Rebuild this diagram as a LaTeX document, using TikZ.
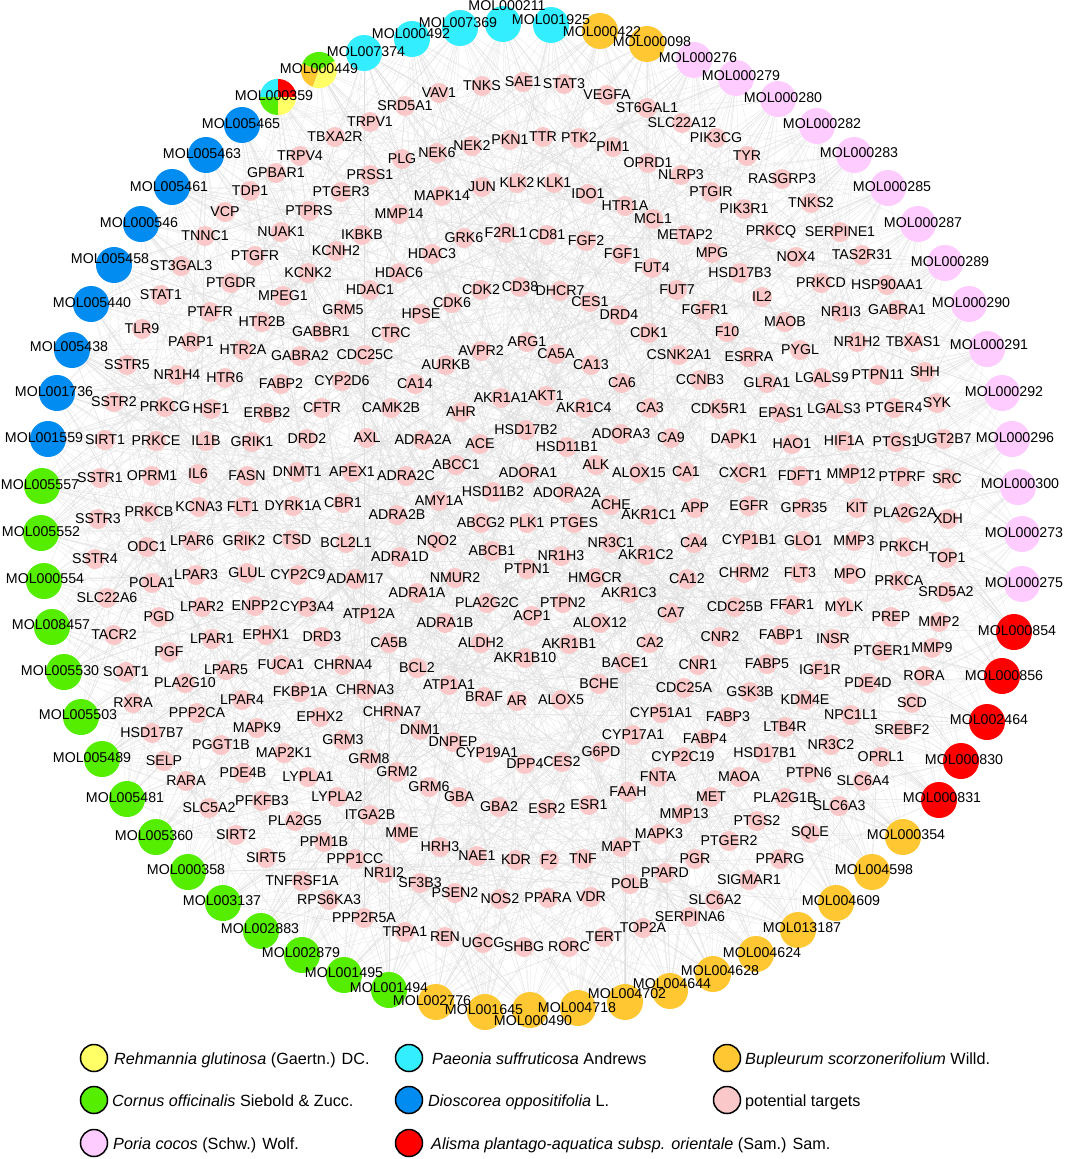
\documentclass[tikz,border=0pt]{standalone}
\usepackage{fontspec}
\setmainfont{Liberation Sans}
\pgfdeclarelayer{background}
\pgfsetlayers{background,main}
\definecolor{cyanm}{RGB}{51,238,255}
\definecolor{orm}{RGB}{255,200,50}
\definecolor{pom}{RGB}{255,204,255}
\definecolor{redm}{RGB}{255,0,0}
\definecolor{grm}{RGB}{85,238,0}
\definecolor{blm}{RGB}{0,140,240}
\definecolor{yem}{RGB}{255,255,102}
\definecolor{tgm}{RGB}{250,200,200}
\definecolor{edgec}{RGB}{222,222,222}
\def\mollist{MOL007374/364/53/366/52/cyanm,MOL000492/412/39/411/34/cyanm,MOL007369/460/28/458/23/cyanm,MOL000211/503/24/507/6/cyanm,MOL001925/551/25/551/20/cyanm,
MOL000422/600/31/602/32/orm,MOL000098/647/44/652/42/orm,
MOL000276/694/60/698/58/pom,MOL000279/736/78/741/76/pom,MOL000280/778/99/783/98/pom,MOL000282/817/126/822/124/pom,MOL000283/854/155/859/153/pom,MOL000285/888/188/892/187/pom,MOL000287/918/224/923/223/pom,MOL000289/945/263/950/262/pom,MOL000290/969/304/971/303/pom,MOL000291/987/349/989/345/pom,MOL000292/1002/393/1004/392/pom,MOL000296/1012/439/1015/438/pom,MOL000300/1018/487/1020/484/pom,MOL000273/1022/534/1024/533/pom,MOL000275/1022/584/1024/583/pom,
MOL000854/1014/632/1017/631/redm,MOL000856/1002/676/1004/676/redm,MOL002464/987/722/989/720/redm,MOL000830/961/761/964/760/redm,MOL000831/939/800/942/798/redm,
MOL000354/903/837/906/835/orm,MOL004598/872/872/874/870/orm,MOL004609/836/903/841/901/orm,MOL013187/798/930/802/928/orm,MOL004624/756/954/762/953/orm,MOL004628/713/974/720/971/orm,MOL004644/670/991/672/984/orm,MOL004702/625/1002/627/994/orm,MOL004718/578/1008/577/1008/orm,MOL000490/530/1010/533/1021/orm,MOL001645/485/1012/484/1010/orm,MOL002776/436/1002/432/1001/orm,
MOL001494/389/990/389/988/grm,MOL001495/344/975/344/973/grm,MOL002879/302/955/301/953/grm,MOL002883/261/931/260/929/grm,MOL003137/223/903/222/901/grm,MOL000358/188/872/186/870/grm,MOL005360/156/837/154/836/grm,MOL005481/127/799/125/798/grm,MOL005489/102/759/92/758/grm,MOL005503/81/717/78/715/grm,MOL005530/64/672/60/671/grm,MOL008457/52/627/51/625/grm,MOL000554/44/581/45/579/grm,MOL005552/41/533/41/532/grm,MOL005557/42/486/40/485/grm,
MOL001559/48/439/44/438/blm,MOL001736/57/393/54/392/blm,MOL005438/72/350/69/347/blm,MOL005440/91/304/92/303/blm,MOL005458/114/265/110/259/blm,MOL000546/141/224/139/223/blm,MOL005461/172/187/169/187/blm,MOL005463/206/155/202/154/blm,MOL005465/242/125/241/124/blm}
\begin{document}
\begin{tikzpicture}[x=1pt,y=-1pt,
 tgt/.style={circle,fill=tgm,draw=none,minimum size=20pt,inner sep=0pt},
 mol/.style={circle,draw=none,minimum size=36pt,inner sep=0pt},
 lbl/.style={font=\fontsize{14.2}{15}\selectfont,inner sep=0pt,text=black},
 legc/.style={circle,draw=black,line width=1.5pt,minimum size=27pt,inner sep=0pt},
 legt/.style={font=\fontsize{16.2}{18}\selectfont,anchor=base west,inner sep=0pt},
 lnk/.style={draw=edgec,line width=0.2pt}]
\useasboundingbox (0,0) rectangle (1065,1159);
% targets
\foreach \n/\x/\y [count=\i] in {
TBXA2R/335/137,TRPV4/300/156,GPBAR1/276/173,TDP1/250/191,PTGER3/341/192,VCP/225/212,PTPRS/309/211,TNNC1/205/236,NUAK1/281/232,IKBKB/362/235,KCNH2/336/251,ST3GAL3/181/266,PTGFR/255/256,KCNK2/308/273,STAT1/161/295,PTGDR/231/283,MPEG1/283/296,HDAC1/370/290,GRM5/343/310,PTAFR/210/312,HTR2B/262/322,TLR9/142/329,GABBR1/321/332,PARP1/191/342,HTR2A/243/350,
TNKS/482/86,SAE1/523/82,STAT3/564/84,VAV1/439/93,VEGFA/607/95,SRD5A1/405/106,ST6GAL1/647/108,TRPV1/370/122,SLC22A12/682/123,PIK3CG/716/138,NEK6/437/153,NEK2/472/146,PKN1/510/140,TTR/543/137,PTK2/579/138,PIM1/613/147,PLG/402/159,OPRD1/648/163,NLRP3/681/175,PRSS1/370/175,PTGIR/711/192,MAPK14/442/196,JUN/482/187,KLK2/517/183,KLK1/554/183,IDO1/588/194,HTR1A/625/206,MCL1/653/219,MMP14/399/214,METAP2/685/235,MPG/712/253,GRK6/464/238,F2RL1/506/233,CD81/547/235,FGF2/586/241,FGF1/622/254,HDAC3/432/254,FUT4/652/268,HDAC6/399/273,FUT7/677/290,CDK2/481/290,CD38/520/287,DHCR7/560/291,CES1/590/302,CDK6/452/303,HPSE/421/314,DRD4/619/315,FGFR1/705/310,CTRC/391/333,CDK1/649/333,AVPR2/481/351,ARG1/527/342,
TYR/747/156,RASGRP3/782/179,TNKS2/811/203,PIK3R1/744/209,PRKCQ/771/232,SERPINE1/840/232,NOX4/796/257,TAS2R31/862/255,HSD17B3/740/273,PRKCD/821/283,HSP90AA1/887/285,IL2/762/297,NR1I3/841/312,GABRA1/897/310,MAOB/785/322,F10/727/332,NR1H2/857/342,TBXAS1/913/342,PYGL/800/350,CSNK2A1/679/355,ESRRA/749/357,
SSTR5/127/365,NR1H4/177/375,HTR6/225/378,GABRA2/300/356,FABP2/281/384,CYP2D6/342/381,CDC25C/365/355,SSTR2/114/402,PRKCG/165/407,HSF1/211/409,ERBB2/267/413,CFTR/322/408,SIRT1/105/440,PRKCE/156/441,IL1B/206/441,GRIK1/252/442,DRD2/307/439,AXL/367/438,SSTR1/100/478,OPRM1/152/476,IL6/198/474,FASN/247/476,DNMT1/297/472,APEX1/352/472,SSTR3/98/519,PRKCB/149/512,KCNA3/199/507,FLT1/243/507,DYRK1A/293/506,CBR1/343/503,SSTR4/95/559,ODC1/147/547,LPAR6/192/541,GRIK2/244/541,CTSD/292/540,BCL2L1/346/543,POLA1/152/583,LPAR3/196/575,GLUL/247/573,CYP2C9/298/575,ADAM17/355/579,SLC22A6/107/598,LPAR2/202/607,ENPP2/255/606,CYP3A4/307/607,ATP12A/369/614,PGD/159/617,TACR2/114/635,LPAR1/212/639,EPHX1/266/635,DRD3/322/637,PGF/169/652,SOAT1/126/672,LPAR5/226/670,FUCA1/281/665,CHRNA4/343/665,PLA2G10/185/683,
CA5A/556/354,AURKB/446/365,CA13/591/365,CCNB3/700/380,CA14/415/384,CA6/622/383,AKR1A1/501/398,AKT1/546/396,CAMK2B/391/408,AHR/461/412,AKR1C4/584/408,CA3/650/408,CDK5R1/719/409,HSD17B2/526/430,ADRA2A/423/440,ACE/480/444,ADORA3/621/434,CA9/671/438,HSD11B1/567/447,DAPK1/734/439,ABCC1/456/465,ADRA2C/406/476,ADORA1/528/473,ALK/596/465,ALOX15/639/473,CA1/686/472,HSD11B2/493/492,ADORA2A/567/493,AMY1A/439/501,ACHE/611/505,AKR1C1/649/515,APP/695/508,CXCR1/743/473,ADRA2B/397/515,ABCG2/481/523,PLK1/527/523,PTGES/574/523,EGFR/749/506,NQO2/437/542,ABCB1/492/551,NR3C1/611/543,AKR1C2/646/555,CA4/694/543,ADRA1D/400/557,NR1H3/561/556,CYP1B1/749/540,PTPN1/527/569,NMUR2/455/578,HMGCR/595/578,CA12/687/579,ADRA1A/417/593,AKR1C3/629/593,CHRM2/744/573,PLA2G2C/487/603,PTPN2/563/603,ACP1/532/616,CA7/671/613,ADRA1B/445/623,ALOX12/600/623,CDC25B/735/607,CA5B/389/643,ALDH2/481/643,AKR1B1/569/644,CA2/650/643,CNR2/720/637,AKR1B10/525/658,BACE1/625/663,CNR1/698/665,BCL2/417/668,FABP1/781/635,FABP5/767/664,ATP1A1/449/685,BCHE/599/684,CDC25A/684/688,
GLRA1/767/383,LGALS9/822/378,PTPN11/878/375,SHH/925/372,EPAS1/781/413,LGALS3/834/409,PTGER4/894/408,SYK/937/403,HAO1/792/444,HIF1A/844/441,PTGS1/896/442,UGT2B7/944/439,FDFT1/800/476,MMP12/851/474,PTPRF/902/477,SRC/947/479,GPR35/804/508,KIT/857/508,PLA2G2A/905/513,XDH/948/519,GLO1/803/541,MMP3/854/541,PRKCH/904/547,TOP1/947/558,FLT3/800/573,MPO/850/574,PRKCA/899/581,SRD5A2/946/592,FFAR1/792/605,MYLK/844/607,PREP/891/617,MMP2/939/622,INSR/833/639,PTGER1/882/651,MMP9/932/648,IGF1R/820/670,PDE4D/868/683,RORA/924/676,GSK3B/750/692,
RXRA/133/703,PPP2CA/197/713,LPAR4/242/700,FKBP1A/300/692,CHRNA3/365/690,EPHX2/320/717,HSD17B7/152/733,MAPK9/257/728,PGGT1B/221/745,GRM3/343/740,SELP/164/761,MAP2K1/284/753,GRM8/369/759,RARA/186/781,PDE4B/243/773,LYPLA1/308/777,SLC5A2/209/808,PFKFB3/262/801,LYPLA2/337/797,ITGA2B/370/815,PLA2G5/295/821,SIRT2/236/835,PPM1B/324/842,SIRT5/266/858,PPP1CC/355/859,TNFRSF1A/302/881,RPS6KA3/329/900,PPP2R5A/364/918,
CHRNA7/392/712,BRAF/484/697,AR/517/701,ALOX5/561/700,DNM1/420/730,DNPEP/453/742,CYP19A1/487/753,DPP4/525/764,CES2/562/762,G6PD/601/752,CYP51A1/661/713,CYP17A1/633/735,GRM2/397/772,GRM6/429/787,GBA/459/797,GBA2/499/807,ESR2/547/809,ESR1/589/805,FAAH/628/792,FNTA/658/777,MME/402/833,HRH3/440/847,NAE1/477/856,KDR/516/860,F2/549/860,TNF/583/859,MAPT/621/847,MAPK3/659/834,NR1I2/384/873,SF3B3/420/883,PSEN2/455/893,NOS2/500/899,PPARA/548/898,VDR/591/897,POLB/630/884,PPARD/665/873,TRPA1/405/932,REN/445/937,UGCG/483/943,SHBG/524/947,RORC/569/947,TERT/604/937,TOP2A/643/928,
KDM4E/805/700,SCD/912/703,FABP3/728/717,NPC1L1/851/715,LTB4R/785/727,SREBF2/902/730,FABP4/705/739,NR3C2/831/745,HSD17B1/765/753,CYP2C19/683/757,OPRL1/881/757,MAOA/739/777,PTPN6/809/773,SLC6A4/863/781,MET/711/797,PLA2G1B/785/798,SLC6A3/839/806,MMP13/684/814,PTGS2/757/821,SQLE/810/833,PTGER2/729/841,PGR/695/859,PPARG/780/859,SIGMAR1/749/880,SLC6A2/715/900,SERPINA6/690/917}
{\node[tgt,label={[lbl]center:\n}] (t\i) at (\x,\y) {}; \xdef\ntgt{\i}}
% compound circles
\foreach \n/\x/\y/\lx/\ly/\c [count=\i] in \mollist {\node[mol,fill=\c] (m\i) at (\x,\y) {};}
\node[mol] (m64) at (278,97) {};
\fill[cyanm] (m64.center) -- (m64.90) arc[start angle=90,end angle=180,radius=18pt] -- cycle;
\fill[redm] (m64.center) -- (m64.0) arc[start angle=0,end angle=90,radius=18pt] -- cycle;
\fill[grm] (m64.center) -- (m64.180) arc[start angle=180,end angle=270,radius=18pt] -- cycle;
\fill[yem] (m64.center) -- (m64.270) arc[start angle=270,end angle=360,radius=18pt] -- cycle;
\node[mol] (m65) at (319,70) {};
\fill[grm] (m65.center) -- (m65.30) arc[start angle=30,end angle=160,radius=18pt] -- cycle;
\fill[orm] (m65.center) -- (m65.160) arc[start angle=160,end angle=250,radius=18pt] -- cycle;
\fill[yem] (m65.center) -- (m65.250) arc[start angle=250,end angle=390,radius=18pt] -- cycle;
% compound labels
\foreach \n/\x/\y/\lx/\ly/\c [count=\i] in \mollist {\node[lbl] (ml\i) at (\lx,\ly) {\n};}
\node[lbl] (ml64) at (274,96) {MOL000359};
\node[lbl] (ml65) at (319,69) {MOL000449};
% edges
\begin{pgfonlayer}{background}
\fill[white] (0,0) rectangle (1065,1159);
\foreach \j in {1,...,65}{\foreach \k in {1,...,24}{%
 \pgfmathtruncatemacro\tgtidx{mod(\j*29+\k*47+\k*\k*3,\ntgt)+1}%
 \draw[lnk] (m\j) -- (t\tgtidx);}}
\end{pgfonlayer}
% legend
\node[legc,fill=yem] (lc1) at (94,1058) {};
\node[legt] (lt1) at (114,1064) {\textit{Rehmannia glutinosa} (Gaertn.) DC.};
\node[legc,fill=cyanm] (lc2) at (409,1058) {};
\node[legt] (lt2) at (432,1064) {\textit{Paeonia suffruticosa} Andrews};
\node[legc,fill=orm] (lc3) at (727,1058) {};
\node[legt] (lt3) at (745,1064) {\textit{Bupleurum scorzonerifolium} Willd.};
\node[legc,fill=grm] (lc4) at (94,1100) {};
\node[legt] (lt4) at (112,1106) {\textit{Cornus officinalis} Siebold \& Zucc.};
\node[legc,fill=blm] (lc5) at (409,1100) {};
\node[legt] (lt5) at (428,1106) {\textit{Dioscorea oppositifolia} L.};
\node[legc,fill=tgm] (lc6) at (727,1100) {};
\node[legt] (lt6) at (745,1106) {potential targets};
\node[legc,fill=pom] (lc7) at (94,1143) {};
\node[legt] (lt7) at (113,1149) {\textit{Poria cocos} (Schw.) Wolf.};
\node[legc,fill=redm] (lc8) at (409,1143) {};
\node[legt] (lt8) at (431,1149) {\textit{Alisma plantago-aquatica subsp. orientale} (Sam.) Sam.};
\end{tikzpicture}
\end{document}
